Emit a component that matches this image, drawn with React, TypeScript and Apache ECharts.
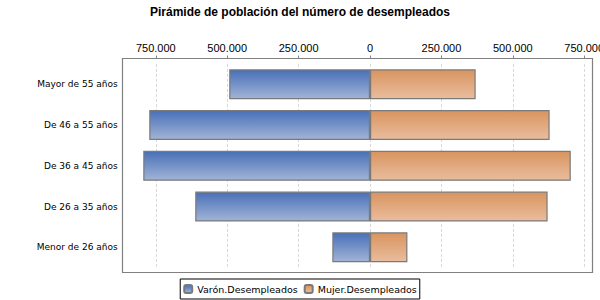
import { useEffect, useRef } from 'react';
import * as echarts from 'echarts';

const titleText = 'Pirámide de población del número de desempleados';
const categories = ['Mayor de 55 años', 'De 46 a 55 años', 'De 36 a 45 años', 'De 26 a 35 años', 'Menor de 26 años'];
const seriesNames = ['Varón.Desempleados', 'Mujer.Desempleados'];
const maleValues = [493000, 773000, 794000, 612000, 132000];
const femaleValues = [370000, 629000, 703000, 622000, 131000];
const tickValues = [-750000, -500000, -250000, 0, 250000, 500000, 750000];
const axisMin = -866000;
const axisMax = 778400;

function fmt(v: number): string {
  const s = String(Math.round(Math.abs(v)));
  return s.replace(/\B(?=(\d{3})+(?!\d))/g, '.');
}

export default function App() {
  const ref = useRef<HTMLDivElement>(null);
  useEffect(() => {
    document.body.style.margin = '0';
    const chart = echarts.init(ref.current!, null, { renderer: 'svg' });
    const blue = new echarts.graphic.LinearGradient(0, 0, 0, 1, [
      { offset: 0, color: '#4870b8' },
      { offset: 1, color: '#a2b4d6' },
    ]);
    const orange = new echarts.graphic.LinearGradient(0, 0, 0, 1, [
      { offset: 0, color: '#d9945f' },
      { offset: 1, color: '#e9bd9e' },
    ]);
    chart.setOption({
      animation: false,
      title: {
        text: titleText,
        left: 'center',
        top: 1,
        textStyle: { fontFamily: 'Liberation Sans', fontSize: 12, fontWeight: 'bold', color: '#000' },
      },
      legend: {
        bottom: 1,
        left: 'center',
        data: seriesNames,
        itemWidth: 8,
        itemHeight: 8,
        itemGap: 6,
        padding: [5, 3, 5, 3],
        borderColor: '#000',
        borderWidth: 1,
        borderRadius: 0,
        textStyle: { fontFamily: 'DejaVu Sans', fontSize: 9.5, color: '#000' },
      },
      grid: { left: 122.7, right: 7.7, top: 63.9, bottom: 32.3, containLabel: false, outerBoundsMode: 'none' },
      xAxis: {
        type: 'value',
        position: 'top',
        offset: 5.4,
        min: axisMin,
        max: axisMax,
        axisLine: { show: false },
        axisTick: { show: true, length: 3, customValues: tickValues, lineStyle: { color: '#888' } },
        axisLabel: {
          customValues: tickValues,
          margin: 5,
          formatter: (v: number) => fmt(v),
          fontFamily: 'Liberation Sans',
          fontSize: 11,
          color: '#000',
        },
        splitLine: { show: true, lineStyle: { color: '#d8d8d8', type: [3, 2] } },
      },
      yAxis: {
        type: 'category',
        inverse: true,
        data: categories,
        axisLine: { show: false },
        axisTick: { show: false },
        axisLabel: { margin: 5, fontFamily: 'DejaVu Sans', fontSize: 9, color: '#000' },
      },
      graphic: [
        {
          type: 'rect',
          shape: { x: 122.5, y: 58.5, width: 470, height: 214 },
          style: { fill: 'none', stroke: '#808080', lineWidth: 1.2 },
          silent: true,
          z: 10,
        },
      ],
      series: [
        {
          name: seriesNames[0],
          type: 'bar',
          stack: 'total',
          barWidth: 30,
          data: maleValues.map((v) => -v),
          itemStyle: { color: blue, borderColor: '#7a7a7a', borderWidth: 1.2 },
        },
        {
          name: seriesNames[1],
          type: 'bar',
          stack: 'total',
          barWidth: 30,
          data: femaleValues,
          itemStyle: { color: orange, borderColor: '#7a7a7a', borderWidth: 1.2 },
        },
      ],
    });
    return () => chart.dispose();
  }, []);
  return <div ref={ref} style={{ width: 600, height: 300 }} />;
}
